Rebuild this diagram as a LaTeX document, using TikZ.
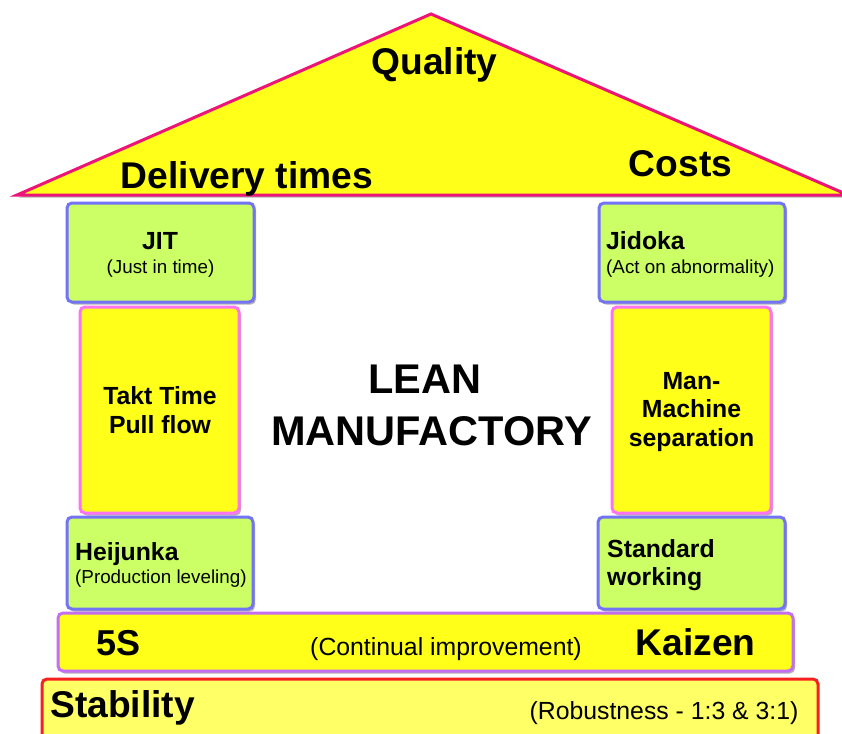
\documentclass[tikz,border=0pt]{standalone}
\usepackage{fontspec}
\setmainfont{Liberation Sans}
\usetikzlibrary{shadows}
\definecolor{roofpink}{HTML}{EC1577}
\definecolor{yel}{HTML}{FFFF1A}
\definecolor{lgreen}{HTML}{CCFF66}
\definecolor{bblue}{HTML}{7373F5}
\definecolor{ppink}{HTML}{FF73F0}
\definecolor{vio}{HTML}{C46EF0}
\definecolor{lyel}{HTML}{FFFF66}
\definecolor{sred}{HTML}{F52020}
\tikzset{
  shad/.style={drop shadow={shadow xshift=2pt,shadow yshift=-2.5pt,opacity=0.3,fill=black}},
  greenbox/.style={draw=bblue,fill=lgreen,line width=3pt,rounded corners=5pt,shad,inner sep=0pt},
  pillar/.style={draw=ppink,fill=yel,line width=3pt,rounded corners=5pt,shad,inner sep=0pt},
  bigt/.style={font=\fontsize{37.2}{44}\selectfont\bfseries,inner sep=0pt},
  midt/.style={font=\fontsize{24.8}{29}\selectfont\bfseries,inner sep=0pt},
  subt/.style={font=\fontsize{18.8}{22}\selectfont,inner sep=0pt},
  regt/.style={font=\fontsize{24.8}{29}\selectfont,inner sep=0pt}
}
\begin{document}
\begin{tikzpicture}[x=1pt,y=-1pt]
\useasboundingbox (0,0) rectangle (842,733);
\clip (0,0) rectangle (842,733);
\fill[white] (0,0) rectangle (842,733);
% roof
\coordinate (apex) at (431,14);
\coordinate (rl) at (17,195);
\coordinate (rr) at (848,195);
\draw[roofpink,fill=yel,line width=3pt,line join=miter,shad] (apex) -- (rr) -- (rl) -- cycle;
\node[bigt,anchor=base] (quality) at (434.5,75) {Quality};
\node[bigt,anchor=base] (delivery) at (247,188) {Delivery times};
\node[bigt,anchor=base] (costs) at (680.5,176) {Costs};
% left column
\node[greenbox,minimum width=187pt,minimum height=99pt] (jit) at (160.5,252.5) {};
\node[pillar,minimum width=159pt,minimum height=206pt] (takt) at (159.5,410) {};
\node[greenbox,minimum width=186pt,minimum height=92pt] (heij) at (160,563) {};
% right column
\node[greenbox,minimum width=186pt,minimum height=99pt] (jidoka) at (692,252.5) {};
\node[pillar,minimum width=159pt,minimum height=206pt] (manm) at (691.5,410) {};
\node[greenbox,minimum width=187pt,minimum height=92pt] (stdw) at (691.5,563) {};
% bars
\node[draw=sred,fill=lyel,line width=3pt,rounded corners=5pt,inner sep=0pt,minimum width=776pt,minimum height=70pt] (stab) at (430,714) {};
\node[draw=vio,fill=yel,line width=3pt,rounded corners=5pt,shad,inner sep=0pt,minimum width=735pt,minimum height=58pt] (kaizen) at (425.5,642) {};
% texts in boxes
\node[midt,anchor=base] (jitt) at (160,249) {JIT};
\node[subt,anchor=base] (jits) at (160.5,273) {(Just in time)};
\node[midt,anchor=base] (takt1) at (160,404) {Takt Time};
\node[midt,anchor=base] (takt2) at (160,433) {Pull flow};
\node[midt,anchor=base west] (heijt) at (75,560) {Heijunka};
\node[subt,anchor=base west] (heijs) at (75,583) {(Production leveling)};
\node[midt,anchor=base west] (jidt) at (606,249) {Jidoka};
\node[subt,anchor=base west] (jids) at (606,273) {(Act on abnormality)};
\node[midt,anchor=base] (mm1) at (691.5,389) {Man-};
\node[midt,anchor=base] (mm2) at (691.5,417.5) {Machine};
\node[midt,anchor=base] (mm3) at (691.5,446) {separation};
\node[midt,anchor=base west] (stdt1) at (607,557) {Standard};
\node[midt,anchor=base west] (stdt2) at (607,585) {working};
\node[font=\fontsize{41.5}{52}\selectfont\bfseries,inner sep=0pt,anchor=base] (lean1) at (425,393) {LEAN};
\node[font=\fontsize{41.5}{52}\selectfont\bfseries,inner sep=0pt,anchor=base] (lean2) at (431.5,445) {MANUFACTORY};
\node[font=\fontsize{36}{42}\selectfont\bfseries,inner sep=0pt,anchor=base] (fives) at (118.5,655) {5S};
\node[regt,anchor=base] (cont) at (446,655) {(Continual improvement)};
\node[bigt,anchor=base] (kaiz) at (695.5,655) {Kaizen};
\node[bigt,anchor=base west] (stabt) at (50,717) {Stability};
\node[regt,anchor=base] (robust) at (664,719) {(Robustness - 1:3 \& 3:1)};
\end{tikzpicture}
\end{document}
